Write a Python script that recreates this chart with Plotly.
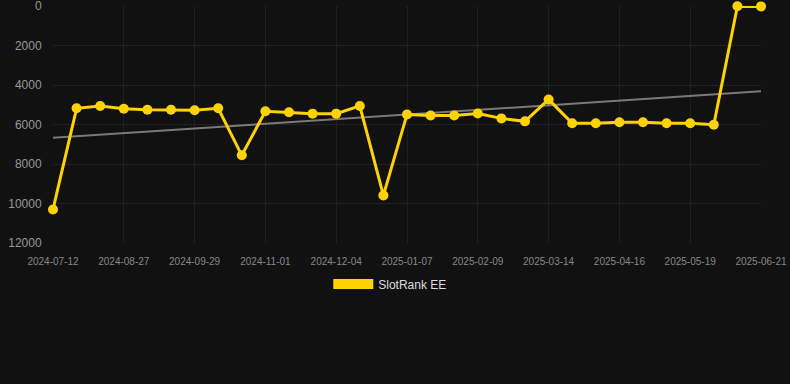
import numpy as np
import plotly.graph_objects as go

dates = [
    "2024-07-12", "2024-07-27", "2024-08-12", "2024-08-27", "2024-09-07", "2024-09-18",
    "2024-09-29", "2024-10-10", "2024-10-21", "2024-11-01", "2024-11-12", "2024-11-23",
    "2024-12-04", "2024-12-15", "2024-12-26", "2025-01-07", "2025-01-18", "2025-01-29",
    "2025-02-09", "2025-02-20", "2025-03-03", "2025-03-14", "2025-03-25", "2025-04-05",
    "2025-04-16", "2025-04-27", "2025-05-08", "2025-05-19", "2025-05-30", "2025-06-10",
    "2025-06-21",
]
rank = [
    10300, 5180, 5060, 5200, 5250, 5250, 5280, 5180, 7560, 5330, 5380, 5450, 5450,
    5060, 9590, 5490, 5540, 5540, 5440, 5690, 5840, 4730, 5940, 5940, 5890, 5890,
    5940, 5940, 6010, 15, 20,
]
tick_labels = dates[::3]
y_ticks = [0, 2000, 4000, 6000, 8000, 10000, 12000]
y_tick_text = [str(v) for v in y_ticks]

BG = "#111111"
GOLD = "#FFD200"

idx = np.arange(len(rank))
slope, intercept = np.polyfit(idx, rank, 1)
trend = slope * idx + intercept

fig = go.Figure()
fig.add_trace(go.Scatter(
    x=dates, y=trend, mode="lines",
    line=dict(color="#7a7a7a", width=2),
    showlegend=False, hoverinfo="skip",
))
fig.add_trace(go.Scatter(
    x=dates, y=rank, mode="lines+markers",
    line=dict(color=GOLD, width=3),
    marker=dict(color=GOLD, size=10),
    cliponaxis=False, showlegend=False, name="SlotRank EE",
))
fig.add_trace(go.Scatter(
    x=[None], y=[None], mode="lines",
    line=dict(color=GOLD, width=12),
    name="SlotRank EE", showlegend=True,
))

fig.update_layout(
    width=790, height=384,
    paper_bgcolor=BG, plot_bgcolor=BG,
    margin=dict(l=53, r=29, t=6, b=141, autoexpand=False),
    font=dict(family="Liberation Sans, Arial, sans-serif", color="#999999"),
    xaxis=dict(
        type="category", range=[0, len(dates) - 1],
        tickmode="array", tickvals=tick_labels, ticktext=tick_labels,
        tickfont=dict(size=10, color="#888888"),
        showgrid=True, gridcolor="#1f1f1f", gridwidth=1,
        zeroline=False, showline=False, automargin=False,
        ticks="outside", ticklen=9, tickcolor=BG,
    ),
    yaxis=dict(
        range=[12000, 0], tickmode="array", tickvals=y_ticks, ticktext=y_tick_text,
        tickfont=dict(size=12, color="#999999"),
        showgrid=True, gridcolor="#222222", gridwidth=1,
        zeroline=False, showline=False, automargin=False,
        ticks="outside", ticklen=8, tickcolor=BG,
        ticklabeloverflow="allow",
    ),
    legend=dict(
        orientation="h", xref="container", yref="container",
        x=0.494, xanchor="center", y=1 - 284 / 384, yanchor="middle",
        font=dict(size=12, color="#dddddd"), bgcolor="rgba(0,0,0,0)",
        itemwidth=40,
    ),
)

fig.write_html(
    "out.html",
    config={"displayModeBar": False},
    post_script="document.body.style.margin='0';document.body.style.background='#111111';",
)
